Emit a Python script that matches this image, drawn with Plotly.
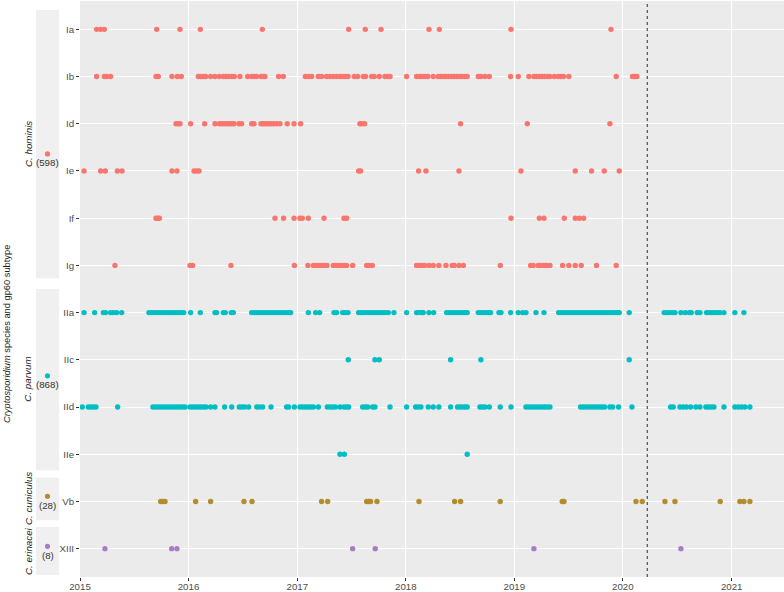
import pandas as pd
import plotly.graph_objects as go

# subtype rows, top to bottom
subtypes = ["Ia", "Ib", "Id", "Ie", "If", "Ig", "IIa", "IIc", "IId", "IIe", "Vb", "XIII"]
species = ["C. hominis", "C. parvum", "C. cuniculus", "C. erinacei"]
species_counts = [598, 868, 28, 8]
species_colours = ["#F8766D", "#00BFC4", "#B38D2C", "#A97BC1"]
species_subtypes = [["Ia", "Ib", "Id", "Ie", "If", "Ig"],
                    ["IIa", "IIc", "IId", "IIe"],
                    ["Vb"],
                    ["XIII"]]

# sample dates (decimal years)
ia = [2015.153, 2015.190, 2015.224, 2015.706, 2015.921, 2016.108, 2016.679, 2017.474, 2017.627,
      2017.772, 2018.214, 2018.309, 2018.969, 2019.890]
ib = [2015.153, 2015.224, 2015.246, 2015.282, 2015.700, 2015.721, 2015.847, 2015.896, 2015.933,
      2016.090, 2016.114, 2016.136, 2016.157, 2016.203, 2016.243, 2016.283, 2016.320, 2016.344,
      2016.369, 2016.397, 2016.421, 2016.473, 2016.544, 2016.581, 2016.605, 2016.627, 2016.667,
      2016.688, 2016.703, 2016.829, 2016.872, 2017.075, 2017.106, 2017.133, 2017.195, 2017.225,
      2017.271, 2017.302, 2017.333, 2017.363, 2017.394, 2017.419, 2017.443, 2017.468, 2017.526,
      2017.557, 2017.609, 2017.630, 2017.686, 2017.710, 2017.756, 2017.808, 2017.833, 2017.855,
      2018.008, 2018.100, 2018.131, 2018.155, 2018.180, 2018.204, 2018.253, 2018.300, 2018.324,
      2018.346, 2018.370, 2018.395, 2018.419, 2018.444, 2018.468, 2018.493, 2018.514, 2018.539,
      2018.566, 2018.668, 2018.692, 2018.729, 2018.769, 2018.965, 2019.036, 2019.134, 2019.180,
      2019.205, 2019.229, 2019.254, 2019.278, 2019.303, 2019.327, 2019.367, 2019.404, 2019.429,
      2019.453, 2019.502, 2019.938, 2020.088, 2020.110, 2020.128]
id_ = [2015.884, 2015.905, 2015.921, 2016.019, 2016.148, 2016.243, 2016.283, 2016.304, 2016.326,
       2016.351, 2016.375, 2016.397, 2016.418, 2016.464, 2016.489, 2016.581, 2016.602, 2016.667,
       2016.688, 2016.710, 2016.734, 2016.759, 2016.783, 2016.811, 2016.842, 2016.909, 2016.971,
       2017.032, 2017.578, 2017.597, 2017.621, 2018.505, 2019.119, 2019.880]
ie = [2015.037, 2015.190, 2015.233, 2015.344, 2015.387, 2015.847, 2015.893, 2016.050, 2016.074,
      2016.096, 2017.566, 2017.584, 2018.118, 2018.186, 2018.490, 2019.061, 2019.561, 2019.711,
      2019.828, 2019.966]
if_ = [2015.700, 2015.715, 2015.731, 2016.796, 2016.875, 2016.971, 2017.026, 2017.047, 2017.103,
       2017.247, 2017.431, 2017.455, 2018.969, 2019.230, 2019.273, 2019.460, 2019.561, 2019.598,
       2019.638]
ig = [2015.322, 2016.013, 2016.037, 2016.390, 2016.974, 2017.099, 2017.149, 2017.173, 2017.198,
      2017.222, 2017.247, 2017.274, 2017.333, 2017.357, 2017.382, 2017.406, 2017.431, 2017.455,
      2017.511, 2017.640, 2017.664, 2017.692, 2018.100, 2018.125, 2018.149, 2018.174, 2018.214,
      2018.253, 2018.305, 2018.370, 2018.428, 2018.447, 2018.490, 2018.530, 2018.871, 2019.150,
      2019.174, 2019.220, 2019.245, 2019.273, 2019.297, 2019.328, 2019.444, 2019.502, 2019.561,
      2019.616, 2019.757, 2019.938]
iia = [2015.037, 2015.135, 2015.215, 2015.236, 2015.282, 2015.307, 2015.338, 2015.384, 2015.635,
       2015.660, 2015.684, 2015.709, 2015.734, 2015.758, 2015.783, 2015.807, 2015.832, 2015.856,
       2015.881, 2015.905, 2015.930, 2015.955, 2016.019, 2016.108, 2016.243, 2016.258, 2016.320,
       2016.338, 2016.393, 2016.412, 2016.581, 2016.605, 2016.630, 2016.654, 2016.679, 2016.703,
       2016.728, 2016.753, 2016.777, 2016.802, 2016.826, 2016.851, 2016.875, 2016.900, 2016.924,
       2016.940, 2017.103, 2017.170, 2017.207, 2017.339, 2017.363, 2017.419, 2017.443, 2017.468,
       2017.566, 2017.591, 2017.615, 2017.640, 2017.664, 2017.689, 2017.713, 2017.738, 2017.763,
       2017.787, 2017.812, 2017.839, 2017.891, 2018.008, 2018.100, 2018.125, 2018.149, 2018.161,
       2018.214, 2018.257, 2018.376, 2018.401, 2018.425, 2018.450, 2018.474, 2018.499, 2018.524,
       2018.545, 2018.566, 2018.668, 2018.692, 2018.717, 2018.741, 2018.766, 2018.781, 2018.858,
       2018.877, 2018.965, 2019.036, 2019.076, 2019.107, 2019.199, 2019.273, 2019.408, 2019.432,
       2019.457, 2019.481, 2019.506, 2019.530, 2019.555, 2019.579, 2019.604, 2019.629, 2019.653,
       2019.678, 2019.702, 2019.727, 2019.751, 2019.776, 2019.801, 2019.825, 2019.850, 2019.874,
       2019.899, 2019.923, 2019.948, 2019.966, 2020.058, 2020.380, 2020.405, 2020.429, 2020.454,
       2020.479, 2020.534, 2020.574, 2020.611, 2020.629, 2020.684, 2020.709, 2020.770, 2020.795,
       2020.819, 2020.844, 2020.868, 2020.893, 2020.930, 2021.031, 2021.114]
iic = [2017.471, 2017.716, 2017.756, 2018.413, 2018.692, 2020.058]
iid = [2015.021, 2015.077, 2015.101, 2015.123, 2015.147, 2015.347, 2015.672, 2015.697, 2015.721,
       2015.746, 2015.770, 2015.795, 2015.820, 2015.844, 2015.869, 2015.893, 2015.918, 2015.942,
       2015.967, 2016.013, 2016.037, 2016.062, 2016.087, 2016.111, 2016.136, 2016.160, 2016.203,
       2016.243, 2016.332, 2016.397, 2016.467, 2016.492, 2016.516, 2016.553, 2016.627, 2016.651,
       2016.682, 2016.759, 2016.903, 2016.921, 2016.974, 2017.026, 2017.050, 2017.075, 2017.099,
       2017.124, 2017.149, 2017.195, 2017.277, 2017.302, 2017.327, 2017.351, 2017.394, 2017.431,
       2017.455, 2017.474, 2017.603, 2017.627, 2017.649, 2017.695, 2017.716, 2017.855, 2018.008,
       2018.091, 2018.115, 2018.140, 2018.207, 2018.253, 2018.305, 2018.413, 2018.477, 2018.499,
       2018.520, 2018.545, 2018.566, 2018.683, 2018.705, 2018.729, 2018.769, 2018.870, 2018.969,
       2019.107, 2019.132, 2019.156, 2019.181, 2019.205, 2019.230, 2019.254, 2019.279, 2019.303,
       2019.328, 2019.610, 2019.635, 2019.659, 2019.684, 2019.708, 2019.733, 2019.757, 2019.782,
       2019.806, 2019.831, 2019.880, 2019.905, 2019.960, 2020.083, 2020.439, 2020.463, 2020.525,
       2020.556, 2020.586, 2020.623, 2020.672, 2020.709, 2020.764, 2020.789, 2020.813, 2020.838,
       2020.930, 2021.031, 2021.062, 2021.093, 2021.123, 2021.169]
iie = [2017.394, 2017.434, 2018.566]
vb = [2015.743, 2015.761, 2015.783, 2016.065, 2016.203, 2016.510, 2016.584, 2017.225, 2017.281,
      2017.640, 2017.658, 2017.676, 2017.735, 2018.122, 2018.450, 2018.505, 2018.870, 2019.441,
      2019.457, 2020.120, 2020.178, 2020.387, 2020.479, 2020.896, 2021.077, 2021.114, 2021.169]
xiii = [2015.230, 2015.844, 2015.893, 2017.511, 2017.719, 2019.180, 2020.534]

subtype_dates = {"Ia": ia, "Ib": ib, "Id": id_, "Ie": ie, "If": if_, "Ig": ig,
                 "IIa": iia, "IIc": iic, "IId": iid, "IIe": iie, "Vb": vb, "XIII": xiii}

lockdown = "2020-03-23"
x_start, x_end = "2015-01-01", "2021-06-26"


def to_dates(years):
    base = pd.Timestamp("2015-01-01")
    return [base + pd.Timedelta(days=(y - 2015) * 365.25) for y in years]


FONT = "Liberation Sans, Arial, sans-serif"

fig = go.Figure()
for sp, col, subs in zip(species, species_colours, species_subtypes):
    xs, ys = [], []
    for s in subs:
        d = to_dates(subtype_dates[s])
        xs += d
        ys += [s] * len(d)
    fig.add_trace(go.Scatter(x=xs, y=ys, mode="markers", name=sp,
                             marker=dict(color=col, size=5.4, line=dict(width=0)),
                             showlegend=False))

# left strips: paper x (from pixels), y in row index units
W = 704.0
H = 576.0
def px(x):
    return (x - 80) / W

strips = [(-0.41, 5.27), (5.50, 9.34), (9.50, 10.40), (10.54, 11.56)]
dot_y = [2.64, 7.34, 9.89, 10.95]

shapes = []
annotations = []
for sp, n, col, (y0, y1), dy in zip(species, species_counts, species_colours, strips, dot_y):
    shapes.append(dict(type="rect", xref="paper", yref="y", x0=px(36), x1=px(59),
                       y0=y0, y1=y1, fillcolor="#F0F0F0", line=dict(width=0), layer="below"))
    shapes.append(dict(type="circle", xref="paper", yref="y", xsizemode="pixel",
                       ysizemode="pixel", xanchor=px(47.5), yanchor=dy,
                       x0=-2.6, x1=2.6, y0=-2.6, y1=2.6,
                       fillcolor=col, line=dict(width=0)))
    annotations.append(dict(text="(%d)" % n, xref="paper", yref="y", x=px(47.5), y=dy,
                            xanchor="center", yanchor="middle", yshift=-9, showarrow=False,
                            font=dict(family=FONT, size=9.7, color="#333333")))
    annotations.append(dict(text="<i>%s</i>" % sp, xref="paper", yref="y",
                            x=px(28), y=(y0 + y1) / 2, xanchor="center", yanchor="middle",
                            textangle=-90, showarrow=False,
                            font=dict(family=FONT, size=9.8, color="#1A1A1A")))

annotations.append(dict(text="<i>Cryptosporidium</i> species and gp60 subtype",
                        xref="paper", yref="paper", x=px(7), y=(577 - 334) / H,
                        xanchor="center", yanchor="middle", textangle=-90,
                        showarrow=False, font=dict(family=FONT, size=9.3, color="#1A1A1A")))

shapes.append(dict(type="line", xref="x", yref="paper", x0=lockdown, x1=lockdown,
                   y0=0, y1=1, line=dict(color="#1F3333", width=1, dash="dot")))

fig.update_layout(
    width=784, height=592,
    margin=dict(l=80, r=0, t=1, b=15, autoexpand=False),
    paper_bgcolor="white",
    plot_bgcolor="#EBEBEB",
    font=dict(family=FONT, size=9.7, color="#4D4D4D"),
    shapes=shapes,
    annotations=annotations,
    xaxis=dict(type="date", range=[x_start, x_end], tick0="2015-01-01", dtick="M12",
               tickformat="%Y", showgrid=True, gridcolor="white", gridwidth=1,
               zeroline=False, ticks="outside", ticklen=3, tickcolor="#333333",
               ticklabelstandoff=-3,
               tickfont=dict(size=9.7, color="#4D4D4D"), showline=False, automargin=False),
    yaxis=dict(type="category", categoryorder="array", categoryarray=subtypes,
               range=[11.6, -0.6], showgrid=True, gridcolor="white", gridwidth=1,
               zeroline=False, ticks="outside", ticklen=3, tickcolor="#333333",
               tickfont=dict(size=9.7, color="#4D4D4D"), showline=False, automargin=False),
)

fig.write_html("out.html", config={"displayModeBar": False},
               post_script="document.body.style.margin='0';")
